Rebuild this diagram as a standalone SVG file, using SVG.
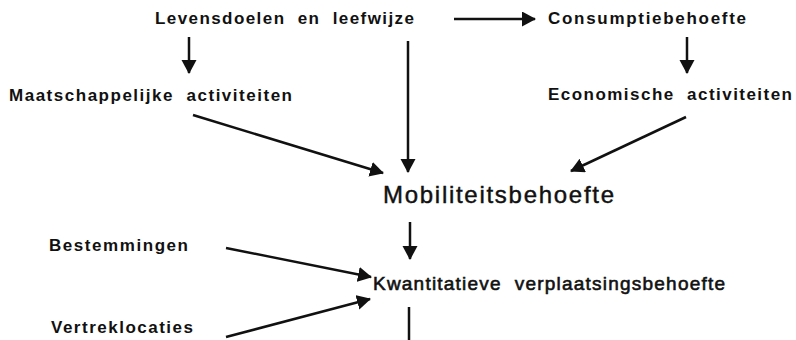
<svg xmlns="http://www.w3.org/2000/svg" width="796" height="340" viewBox="0 0 796 340">
<defs>
<style>
.t{font-family:"Liberation Sans",Arial,sans-serif;font-weight:bold;font-size:17px;fill:#111;white-space:pre;}
.big{font-weight:normal;font-size:24px;stroke:#111;stroke-width:0.45;}
.mid{font-weight:normal;font-size:19px;stroke:#111;stroke-width:0.6;}
.c{stroke:#111;stroke-width:2.5;fill:none;marker-end:url(#ah);}
.n{stroke:#111;stroke-width:2.5;fill:none;}
</style>
<marker id="ah" markerUnits="userSpaceOnUse" markerWidth="16" markerHeight="16" refX="13" refY="7.5" orient="auto" viewBox="0 0 16 16">
<path d="M0,0 L14,7.5 L0,15 z" fill="#111"/>
</marker>
</defs>
<rect width="796" height="340" fill="#fff"/>
<g id="levensdoelen"><text class="t" x="155" y="24" textLength="259" lengthAdjust="spacing" xml:space="preserve">Levensdoelen  en  leefwijze</text></g>
<g id="consumptiebehoefte"><text class="t" x="548" y="24" textLength="198" lengthAdjust="spacing">Consumptiebehoefte</text></g>
<g id="maatschappelijke"><text class="t" x="9" y="101" textLength="283" lengthAdjust="spacing" xml:space="preserve">Maatschappelijke  activiteiten</text></g>
<g id="economische"><text class="t" x="548" y="100" textLength="244" lengthAdjust="spacing" xml:space="preserve">Economische  activiteiten</text></g>
<g id="mobiliteitsbehoefte"><text class="t big" x="383" y="203" textLength="231" lengthAdjust="spacing">Mobiliteitsbehoefte</text></g>
<g id="bestemmingen"><text class="t" x="49" y="251" textLength="139" lengthAdjust="spacing">Bestemmingen</text></g>
<g id="kwantitatieve"><text class="t mid" x="373" y="290" textLength="352" lengthAdjust="spacing" xml:space="preserve">Kwantitatieve  verplaatsingsbehoefte</text></g>
<g id="vertreklocaties"><text class="t" x="51" y="333" textLength="142" lengthAdjust="spacing">Vertreklocaties</text></g>
<g id="connectors">
<line class="c" x1="189" y1="37" x2="189" y2="73"/>
<line class="c" x1="408" y1="41" x2="408" y2="172"/>
<line class="c" x1="454" y1="19" x2="535" y2="19"/>
<line class="c" x1="687" y1="37" x2="687" y2="73"/>
<line class="c" x1="193" y1="115" x2="383" y2="173"/>
<line class="c" x1="686" y1="117" x2="571" y2="171"/>
<line class="c" x1="410" y1="222" x2="410" y2="259"/>
<line class="c" x1="226" y1="248" x2="371" y2="277"/>
<line class="c" x1="226" y1="337" x2="370" y2="299"/>
<line class="n" x1="409" y1="307" x2="409" y2="340"/>
</g>
</svg>
